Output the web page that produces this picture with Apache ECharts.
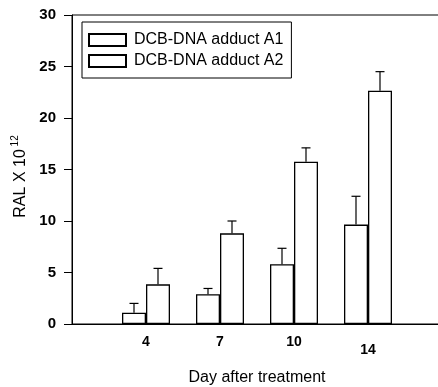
<!DOCTYPE html>
<html>
<head>
<meta charset="utf-8">
<script src="https://cdn.jsdelivr.net/npm/echarts@6/dist/echarts.min.js"></script>
<style>html,body{margin:0;padding:0;background:#fff}#c{width:438px;height:387px}</style>
</head>
<body>
<div id="c"></div>
<script>
var categories = ['', '4', '7', '10', '14', ''];
var seriesNames = ['DCB-DNA adduct A1', 'DCB-DNA adduct A2'];
var a1Values = [null, 1.1, 2.9, 5.8, 9.65];
var a1ErrTop = [null, 2.0, 3.45, 7.35, 12.4];
var a2Values = [null, 3.85, 8.8, 15.75, 22.65];
var a2ErrTop = [null, 5.4, 10.0, 17.1, 24.5];
var yTicks = [0, 5, 10, 15, 20, 25, 30];

var BAR_W = 24;
var chart = echarts.init(document.getElementById('c'), null, {renderer: 'canvas'});
var font = 'Liberation Sans, Arial, sans-serif';

function errSeries(tops, vals, offset) {
  var d = [];
  for (var i = 0; i < tops.length; i++) {
    if (tops[i] != null) d.push([i, vals[i], tops[i]]);
  }
  return {
    type: 'custom',
    data: d,
    z: 5,
    renderItem: function (params, api) {
      var c = api.value(0);
      var lo = api.coord([c, api.value(1)]);
      var hi = api.coord([c, api.value(2)]);
      var x = lo[0] + offset;
      var hw = 4.5;
      return {
        type: 'group',
        children: [
          {type: 'line', shape: {x1: x, y1: lo[1], x2: x, y2: hi[1]}, style: {stroke: '#000', lineWidth: 1.2}},
          {type: 'line', shape: {x1: x - hw, y1: hi[1], x2: x + hw, y2: hi[1]}, style: {stroke: '#000', lineWidth: 1.2}}
        ]
      };
    }
  };
}

var option = {
  backgroundColor: '#fff',
  animation: false,
  grid: {left: 72, top: 15, height: 309, width: 370, containLabel: false, outerBoundsMode: 'none',
         show: true, borderColor: '#000', borderWidth: 1},
  legend: {
    left: 82, top: 22,
    orient: 'vertical',
    itemWidth: 37, itemHeight: 12, itemGap: 5,
    padding: [10, 8, 9, 6],
    borderColor: '#000', borderWidth: 1,
    data: seriesNames,
    textStyle: {fontFamily: font, fontSize: 16, color: '#000', padding: [0, 0, 0, 3]},
    icon: 'rect'
  },
  xAxis: {
    type: 'category',
    data: categories,
    boundaryGap: false,
    name: 'Day after treatment',
    nameLocation: 'middle',
    nameGap: 46,
    nameTextStyle: {fontFamily: font, fontSize: 16, color: '#000'},
    axisLine: {lineStyle: {color: '#000', width: 1}},
    axisTick: {show: false},
    axisLabel: {
      fontFamily: font, fontSize: 14, fontWeight: 'bold', color: '#000', margin: 11,
      formatter: function (v) { return v === '14' ? '{low|' + v + '}' : v; },
      rich: {low: {fontFamily: font, fontSize: 14, fontWeight: 'bold', color: '#000', padding: [8, 0, 0, 0]}}
    },
    splitLine: {show: false}
  },
  yAxis: {
    type: 'value',
    min: yTicks[0], max: yTicks[yTicks.length - 1], interval: 5,
    name: '{n|RAL X 10}{s| 12}',
    nameLocation: 'middle',
    nameRotate: 90,
    nameGap: 39,
    nameTextStyle: {
      padding: [0, 14, 0, 0],
      rich: {
        n: {fontFamily: font, fontSize: 16, color: '#000'},
        s: {fontFamily: font, fontSize: 10, color: '#000', verticalAlign: 'top', padding: [0, 0, 10, 0]}
      }
    },
    axisLine: {show: true, lineStyle: {color: '#000', width: 1}},
    axisTick: {show: true, inside: false, length: 8, lineStyle: {color: '#000'}},
    axisLabel: {fontFamily: font, fontSize: 15, fontWeight: 'bold', color: '#000', margin: 16},
    splitLine: {show: false}
  },
  series: [
    {
      name: seriesNames[0], type: 'bar', data: a1Values, barWidth: BAR_W, barGap: '0%',
      itemStyle: {color: '#fff', borderColor: '#000', borderWidth: 1.3}
    },
    {
      name: seriesNames[1], type: 'bar', data: a2Values, barWidth: BAR_W, barGap: '0%',
      itemStyle: {color: '#fff', borderColor: '#000', borderWidth: 1.3}
    },
    errSeries(a1ErrTop, a1Values, -BAR_W / 2),
    errSeries(a2ErrTop, a2Values, BAR_W / 2)
  ]
};
chart.setOption(option);
</script>
</body>
</html>
